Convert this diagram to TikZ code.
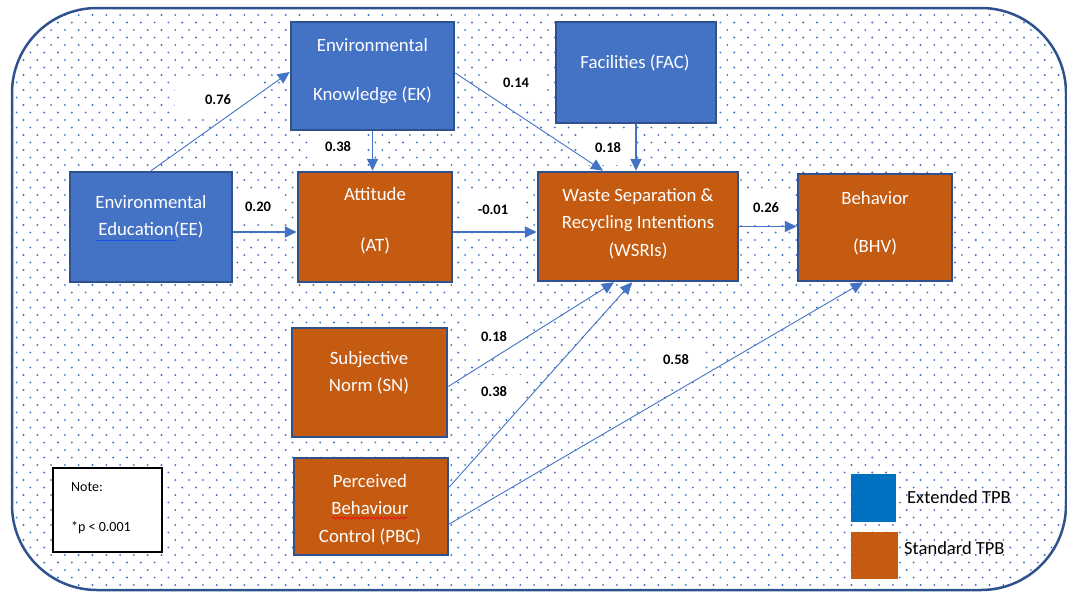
\documentclass[tikz,border=0pt]{standalone}
\usepackage{fontspec}
\setmainfont{Carlito}
\usetikzlibrary{arrows.meta,decorations.pathmorphing}

\definecolor{boxblue}{HTML}{4472C4}
\definecolor{boxedge}{HTML}{2F528F}
\definecolor{boxorange}{HTML}{C55A11}
\definecolor{legblue}{HTML}{0070C0}
\definecolor{dotblue}{HTML}{4472C4}
\definecolor{linkblue}{HTML}{4472C4}
\definecolor{gramblue}{HTML}{1E50E6}
\definecolor{spellred}{HTML}{E8141E}

\tikzset{
  construct/.style={draw=boxedge, line width=2.5pt, inner sep=0pt},
  extbox/.style={construct, fill=boxblue},
  stdbox/.style={construct, fill=boxorange},
  boxtext/.style={text=white, align=center, inner sep=0pt,
    font=\fontsize{18.8}{27.5}\selectfont},
  weight/.style={fill=white, inner xsep=14pt, inner ysep=12pt,
    font=\bfseries\fontsize{14.5}{17}\selectfont},
  link/.style={draw=linkblue, line width=0.9pt,
    -{Triangle[length=12pt,width=11pt]}},
  mainlink/.style={link, line width=1.8pt},
  legtext/.style={anchor=west, inner sep=0pt, font=\fontsize{18.5}{22}\selectfont},
}

\begin{document}
\begin{tikzpicture}[x=1pt, y=-1pt]
\useasboundingbox (0,0) rectangle (1067,592);

% dotted panel
\begin{scope}
  \clip[rounded corners=85pt] (12,8) rectangle (1066,590);
  \foreach \k in {1,...,79}{
    \pgfmathsetmacro\yy{\k*7.5}
    \pgfmathsetmacro\xo{mod(\k,2)*6.9+9.7}
    \fill[dotblue] foreach \j in {-1,...,77}{ ({\xo+\j*13.8},\yy) circle[radius=1.05] };
  }
\end{scope}
\draw[boxedge, line width=2.5pt, rounded corners=85pt] (12,8) rectangle (1066,590);

% path weights
\node[weight, inner xsep=30pt, inner ysep=14pt] (w-ee-ek) at (218,100) {0.76};
\node[weight] (w-ek-wsri) at (516,83) {0.14};
\node[weight] (w-fac-wsri) at (608,148) {0.18};
\node[weight] (w-ek-at) at (338,147) {0.38};
\node[weight] (w-ee-at) at (258,207) {0.20};
\node[weight] (w-at-wsri) at (493,210) {-0.01};
\node[weight] (w-wsri-bhv) at (766,208) {0.26};
\node[weight] (w-sn-wsri) at (494,337) {0.18};
\node[weight] (w-pbc-wsri) at (494,392) {0.38};
\node[weight] (w-pbc-bhv) at (676,360) {0.58};

% constructs
\node[extbox, minimum width=162, minimum height=110] (ee) at (151,227) {};
\node[extbox, minimum width=163, minimum height=108] (ek) at (372.5,76) {};
\node[extbox, minimum width=160, minimum height=101] (fac) at (636,72.5) {};
\node[stdbox, minimum width=154, minimum height=110] (at) at (375,227) {};
\node[stdbox, minimum width=200, minimum height=109] (wsri) at (638,226.5) {};
\node[stdbox, minimum width=154, minimum height=107] (bhv) at (875,227.5) {};
\node[stdbox, minimum width=155, minimum height=109] (sn) at (369.5,382.5) {};
\node[stdbox, minimum width=154, minimum height=97] (pbc) at (371,506.5) {};

% construct labels
\node[boxtext] (ee-t) at (151,217) {Environmental\\Education(EE)};
\node[boxtext] (ek-t) at (372.5,71) {Environmental\\[21pt]Knowledge (EK)};
\node[boxtext] (fac-t) at (635,63) {Facilities (FAC)};
\node[boxtext] (at-t) at (375,221) {Attitude\\[24pt](AT)};
\node[boxtext] (wsri-t) at (638,223.5) {Waste Separation \&\\Recycling Intentions\\(WSRIs)};
\node[boxtext] (bhv-t) at (875,223.5) {Behavior\\[21pt](BHV)};
\node[boxtext] (sn-t) at (369,373) {Subjective\\Norm (SN)};
\node[boxtext] (pbc-t) at (370,509.5) {Perceived\\Behaviour\\Control (PBC)};

% proofing marks under two words
\draw[gramblue, line width=1.2pt] (ee-t.south west) ++(1pt,-1.5pt) -- ++(81pt,0);
\draw[spellred, line width=0.9pt, decorate,
  decoration={snake, amplitude=1pt, segment length=4pt}] (332,518) -- (408,518);

% paths
\draw[link] (ee.north) -- ([yshift=4pt]ek.west);
\draw[mainlink] (ek.south) -- (ek.south |- at.north);
\draw[link] ([yshift=3pt]ek.east) -- ([xshift=-35pt]wsri.north);
\draw[mainlink] (fac.south) -- (fac.south |- wsri.north);
\draw[mainlink] ([yshift=-5pt]ee.east) -- ([yshift=-5pt]ee.east -| at.west);
\draw[mainlink] ([yshift=-5pt]at.east) -- ([yshift=-5pt]at.east -| wsri.west);
\draw[mainlink] (wsri.east) -- (wsri.east -| bhv.west);
\draw[link] ([yshift=-4pt]sn.east) -- ([xshift=-24pt]wsri.south);
\draw[link] ([yshift=19.5pt]pbc.east) -- ([xshift=-6pt]wsri.south);
\draw[link] ([yshift=-17.5pt]pbc.east) -- ([xshift=-12pt]bhv.south);

% note
\node[draw=black, line width=1.5pt, fill=white, minimum width=109, minimum height=84] (note) at (107.5,510) {};
\node[anchor=west, align=left, inner sep=0pt, font=\fontsize{14}{17}\selectfont] (note-t) at (71,508) {Note:\\[23pt]*p < 0.001};

% legend
\node[fill=legblue, minimum width=45, minimum height=48, inner sep=0pt] (leg-ext) at (873.5,498) {};
\node[fill=boxorange, minimum width=47, minimum height=47, inner sep=0pt] (leg-std) at (874.5,555.5) {};
\node[legtext] (leg-ext-t) at (907,497) {Extended TPB};
\node[legtext] (leg-std-t) at (904,548) {Standard TPB};
\end{tikzpicture}
\end{document}
